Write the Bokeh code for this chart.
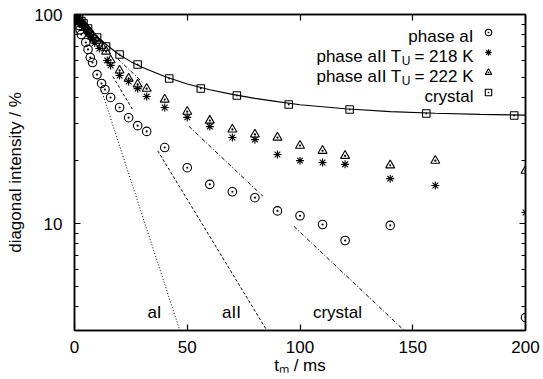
import math
from bokeh.plotting import figure
from bokeh.models import (Range1d, FixedTicker, LinearAxis, LogAxis, Label,
                          Legend, LegendItem, BasicTickFormatter)
from bokeh.core.properties import value
from bokeh.embed import file_html
from bokeh.resources import INLINE

NaN = float("nan")

# ---------------- data ----------------
aI_t = [0, 0.5, 1, 1.5, 2, 2.5, 3, 5, 6, 7, 8, 10, 12, 13.5, 16, 20, 24, 28, 32,
        40, 50, 60, 70, 80, 90, 100, 110, 120, 140, 200]
aI_y = [100, 97.5, 95, 92, 88.5, 84.5, 80.2, 73.5, 68.1, 62.3, 58.9, 51.6, 46.8,
        43.8, 40.1, 35.9, 32.1, 29.4, 27.6, 23.1, 18.5, 15.4, 14.2, 13.3, 11.5,
        10.9, 9.9, 8.3, 9.8, 3.55]

aII218_t = [0, 1, 2, 3, 4, 5, 6, 7, 8, 9, 11, 14.5, 16, 20, 24, 28, 32, 40, 50,
            60, 70, 80, 90, 100, 110, 120, 140, 160, 200]
aII218_y = [100, 96.5, 93, 90, 87, 84, 81, 78.5, 76, 73, 68.8, 60.3, 57.1, 51.1,
            47.8, 44.2, 40.5, 35.9, 32.2, 29.1, 25.8, 25.2, 21.4, 20.0, 19.6,
            19.2, 16.4, 15.2, 11.3]

aII222_t = [0, 1, 2, 3, 4, 5, 6, 7, 8, 9, 10, 12, 14, 16, 20, 24, 28, 32, 40, 50,
            60, 70, 80, 90, 100, 110, 120, 140, 160, 200]
aII222_y = [100, 97, 94.5, 92, 89.5, 87, 84.5, 82, 79.5, 77, 75, 71, 66.5, 60.5,
            54.0, 49.4, 46.3, 44.2, 39.2, 34.3, 31.1, 28.2, 26.7, 25.8, 23.6,
            22.3, 21.1, 19.0, 20.0, 17.9]

cryst_t = [0, 1, 2, 3, 4, 6, 10, 14, 20, 28, 42, 56, 72, 95, 122, 156, 195]
cryst_y = [100, 98, 95.5, 93, 90.5, 85.7, 77.6, 70.3, 64.4, 57.7, 49.4, 44.3,
           41.0, 37.1, 35.1, 33.6, 32.9]

# crystal fit curve
cfit_t = [0, 5, 10, 15, 20, 25, 30, 40, 50, 60, 70, 80, 90, 100, 120, 140, 160,
          180, 200]
cfit_y = [100, 88, 78.5, 70.5, 64, 59.5, 56, 50.5, 46.5, 43.7, 41.5, 39.7, 38.3,
          37.0, 35.4, 34.3, 33.7, 33.3, 33.0]

# initial-decay lines (visible pieces)
lineI_t = [12.0, 46.7]
lineI_y = [43.3, 3.08]
lineII_t = [17.0, 26.2, NaN, 36.9, 85.3]
lineII_y = [50.5, 34.5, NaN, 22.3, 3.08]
lineC_t = [19.1, 30.7, NaN, 50.7, 83.6, NaN, 97.3, 146.2]
lineC_y = [61.5, 46.8, NaN, 29.2, 13.5, NaN, 9.7, 3.08]

x_ticks = [0, 50, 100, 150, 200]
y_ticks = [10, 100]
y_minor = [4, 5, 6, 7, 8, 9, 20, 30, 40, 50, 60, 70, 80, 90]

series_labels = ["phase aI", "crystal"]
line_labels = ["aI", "aII", "crystal"]
x_title = "t\u2098 / ms"
y_title = "diagonal intensity / %"

FONT = "Liberation Sans"
FS = "17px"

p = figure(width=543, height=379, x_range=Range1d(0, 200),
           y_range=Range1d(3.08, 100), y_axis_type="log",
           output_backend="svg", toolbar_location=None,
           min_border_left=74, min_border_right=18, min_border_top=14,
           min_border_bottom=49)
p.grid.visible = False
p.outline_line_color = "black"
p.outline_line_width = 1.5
p.background_fill_color = "white"
p.border_fill_color = "white"


def style_axis(ax, show_labels, minor):
    ax.axis_line_color = "black"
    ax.axis_line_width = 1.5
    ax.major_tick_in = 6
    ax.major_tick_out = 0
    ax.major_tick_line_width = 1.2
    ax.minor_tick_in = 4 if minor else 0
    ax.minor_tick_out = 0
    ax.minor_tick_line_width = 1.2
    if not minor:
        ax.minor_tick_line_color = None
    ax.major_label_text_font = FONT
    if show_labels:
        ax.major_label_text_font_size = FS
        ax.major_label_text_color = "black"
    else:
        ax.major_label_text_font_size = "1px"
        ax.major_label_text_color = None
        ax.major_label_standoff = 0


xa = p.xaxis[0]
xa.ticker = FixedTicker(ticks=x_ticks)
style_axis(xa, True, False)
xa.major_label_standoff = 10
xa.axis_label = x_title
xa.axis_label_text_font = FONT
xa.axis_label_text_font_size = FS
xa.axis_label_text_font_style = "normal"
xa.axis_label_text_color = "black"
xa.axis_label_standoff = 0

ya = p.yaxis[0]
ya.ticker = FixedTicker(ticks=y_ticks, minor_ticks=y_minor)
ya.formatter = BasicTickFormatter()
style_axis(ya, True, True)
ya.major_label_standoff = 12
ya.axis_label = y_title
ya.axis_label_text_font = FONT
ya.axis_label_text_font_size = FS
ya.axis_label_text_font_style = "normal"
ya.axis_label_text_color = "black"
ya.axis_label_standoff = 6

top = LinearAxis(ticker=FixedTicker(ticks=x_ticks))
style_axis(top, False, False)
p.add_layout(top, "above")

right = LogAxis(ticker=FixedTicker(ticks=y_ticks, minor_ticks=y_minor),
                formatter=BasicTickFormatter())
style_axis(right, False, True)
p.add_layout(right, "right")

# fit lines
p.line(lineI_t, lineI_y, line_color="black", line_width=1, line_dash="1 2")
p.line(lineII_t, lineII_y, line_color="black", line_width=1, line_dash="3 2")
p.line(lineC_t, lineC_y, line_color="black", line_width=1, line_dash="4 2 1 2")
p.line(cfit_t, cfit_y, line_color="black", line_width=1.1)

mk = dict(line_color="black", fill_color=None, line_width=1.1)
r1 = p.scatter(aI_t, aI_y, marker="circle_dot", size=8.5, **mk)
r2 = p.scatter(aII218_t, aII218_y, marker="asterisk", size=8, **mk)
r3 = p.scatter(aII222_t, aII222_y, marker="triangle_dot", size=9, **mk)
r4 = p.scatter(cryst_t, cryst_y, marker="square_dot", size=7.5, **mk)

legend = Legend(items=[LegendItem(label=value(" "), renderers=[r]) for r in (r1, r2, r3, r4)],
                location=(406, 228), glyph_width=16, glyph_height=20, spacing=0,
                padding=0, margin=0, label_width=0, label_height=0,
                label_standoff=0, label_text_font_size="1px",
                label_text_color=None,
                border_line_color=None, background_fill_alpha=0)
p.add_layout(legend)


def lab(text, x, y, size=FS, align="left"):
    p.add_layout(Label(x=x, y=y, x_units="screen", y_units="screen", text=text,
                       text_font=FONT, text_font_size=size, text_color="black",
                       text_align=align, text_baseline="alphabetic"))


# legend texts (right aligned, frame-relative screen units)
lab(series_labels[0], 399, 294, align="right")
lab("= 218 K", 399, 274, align="right")
lab("U", 336, 270, size="12px", align="right")
lab("phase aII T", 327, 274, align="right")
lab("= 222 K", 399, 254, align="right")
lab("U", 336, 250, size="12px", align="right")
lab("phase aII T", 327, 254, align="right")
lab(series_labels[1], 399, 234, align="right")

# fit-line labels
lab(line_labels[0], 80, 18, align="center")
lab(line_labels[1], 157, 18, align="center")
lab(line_labels[2], 263, 18, align="center")

open("out.html", "w").write(file_html(p, INLINE))
